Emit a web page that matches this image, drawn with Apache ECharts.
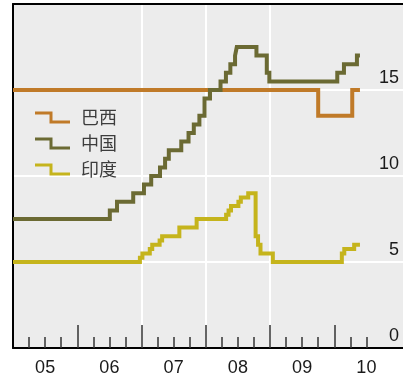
<!DOCTYPE html>
<html><head><meta charset="utf-8">
<script src="https://cdn.jsdelivr.net/npm/echarts@6/dist/echarts.min.js"></script>
<style>html,body{margin:0;padding:0;background:#fff}#c{width:403px;height:379px}</style>
</head><body><div id="c"></div>
<script>
const seriesNames = ['巴西', '中国', '印度'];
const seriesColors = ['#c07a28', '#6b6a33', '#c5b41c'];
// [decimal year, ratio %]
const brazil = [[2005.0, 15], [2009.75, 13.5], [2010.28, 15], [2010.40, 15]];
const china = [[2005.0, 7.5], [2006.507, 8.0], [2006.619, 8.5], [2006.871, 9.0], [2007.038, 9.5],
  [2007.151, 10.0], [2007.288, 10.5], [2007.367, 11.0], [2007.425, 11.5], [2007.619, 12.0],
  [2007.732, 12.5], [2007.814, 13.0], [2007.901, 13.5], [2007.981, 14.5], [2008.066, 15.0],
  [2008.230, 15.5], [2008.314, 16.0], [2008.383, 16.5], [2008.456, 17.0], [2008.483, 17.5],
  [2008.789, 17.0], [2008.95, 16.0], [2008.99, 15.5], [2010.047, 16.0], [2010.151, 16.5],
  [2010.353, 17.0], [2010.40, 17.0]];
const india = [[2005.0, 5.0], [2006.975, 5.25], [2007.014, 5.5], [2007.129, 5.75], [2007.167, 6.0],
  [2007.282, 6.25], [2007.321, 6.5], [2007.589, 7.0], [2007.858, 7.5], [2008.317, 7.75],
  [2008.355, 8.0], [2008.393, 8.25], [2008.508, 8.5], [2008.546, 8.75], [2008.661, 9.0],
  [2008.776, 6.5], [2008.814, 6.0], [2008.852, 5.5], [2009.044, 5.0], [2010.118, 5.5],
  [2010.156, 5.75], [2010.310, 6.0], [2010.40, 6.0]];
const yearTicks = [2006, 2007, 2008, 2009, 2010];
const quarterTicks = [2005.25, 2005.5, 2005.75, 2006.25, 2006.5, 2006.75, 2007.25, 2007.5, 2007.75,
  2008.25, 2008.5, 2008.75, 2009.25, 2009.5, 2009.75, 2010.25, 2010.5];
const xLabelPos = [2005.5, 2006.5, 2007.5, 2008.5, 2009.5, 2010.5];
const xLabels = ['05', '06', '07', '08', '09', '10'];
const yLabels = ['0', '5', '10', '15'];

const X_MIN = 2005, X_MAX = 2011.07;
const chart = echarts.init(document.getElementById('c'), null, {renderer: 'canvas'});
const labelFont = '"Liberation Sans", Arial, sans-serif';
chart.setOption({
  animation: false,
  backgroundColor: '#ffffff',
  grid: {left: 13, right: 0, top: 4, bottom: 31, show: true, backgroundColor: '#ececec',
    borderWidth: 0, containLabel: false, outerBoundsMode: 'none'},
  legend: {
    orient: 'vertical', left: 35, top: 104.5, padding: 0, itemGap: 0,
    itemWidth: 35, itemHeight: 12,
    icon: 'path://M0,0H17.5V9H35V12H14.5V3H0Z',
    itemStyle: {borderWidth: 0},
    textStyle: {fontFamily: '"Noto Sans CJK SC", sans-serif', fontSize: 18, color: '#3c3c3c',
      lineHeight: 26, padding: [0, 0, 0, 6]},
    data: seriesNames
  },
  xAxis: [
    {type: 'value', position: 'bottom', min: X_MIN, max: X_MAX, interval: 1,
      axisLine: {show: true, onZero: false, lineStyle: {color: '#000', width: 2}},
      axisTick: {show: true, inside: true, length: 23, customValues: yearTicks,
        lineStyle: {color: '#333', width: 1.5}},
      axisLabel: {show: true, customValues: xLabelPos, margin: 11, fontSize: 18,
        fontFamily: labelFont, color: '#1a1a1a',
        formatter: v => xLabels[xLabelPos.indexOf(v)] ?? ''},
      splitLine: {show: true, showMinLine: false, showMaxLine: false,
        lineStyle: {color: '#ffffff', width: 2}}},
    {type: 'value', position: 'bottom', min: X_MIN, max: X_MAX,
      axisLine: {show: false, onZero: false},
      axisTick: {show: true, inside: true, length: 11, customValues: quarterTicks,
        lineStyle: {color: '#333', width: 1.5}},
      axisLabel: {show: false}, splitLine: {show: false}},
    {type: 'value', position: 'top', min: X_MIN, max: X_MAX,
      axisLine: {show: true, onZero: false, lineStyle: {color: '#000', width: 2}},
      axisTick: {show: false}, axisLabel: {show: false}, splitLine: {show: false}}
  ],
  yAxis: [
    {type: 'value', position: 'right', min: 0, max: 20, interval: 5,
      axisLine: {show: false, onZero: false}, axisTick: {show: false},
      axisLabel: {show: true, inside: true, margin: 4, fontSize: 18, fontFamily: labelFont,
        color: '#1a1a1a', verticalAlign: 'bottom', padding: [0, 0, 3, 0],
        showMaxLabel: false, showMinLabel: true,
        formatter: v => yLabels[v / 5] ?? ''},
      splitLine: {show: true, showMinLine: false, showMaxLine: false,
        lineStyle: {color: '#ffffff', width: 2}}},
    {type: 'value', position: 'left', min: 0, max: 20,
      axisLine: {show: true, onZero: false, lineStyle: {color: '#000', width: 2}},
      axisTick: {show: false}, axisLabel: {show: false}, splitLine: {show: false}}
  ],
  series: [brazil, china, india].map((d, i) => ({
    name: seriesNames[i], type: 'line', step: 'end', data: d,
    xAxisIndex: 0, yAxisIndex: 0, showSymbol: false, symbol: 'none',
    color: seriesColors[i],
    lineStyle: {width: 4, color: seriesColors[i], cap: 'butt', join: 'miter'},
    emphasis: {disabled: true}
  }))
});
</script></body></html>
